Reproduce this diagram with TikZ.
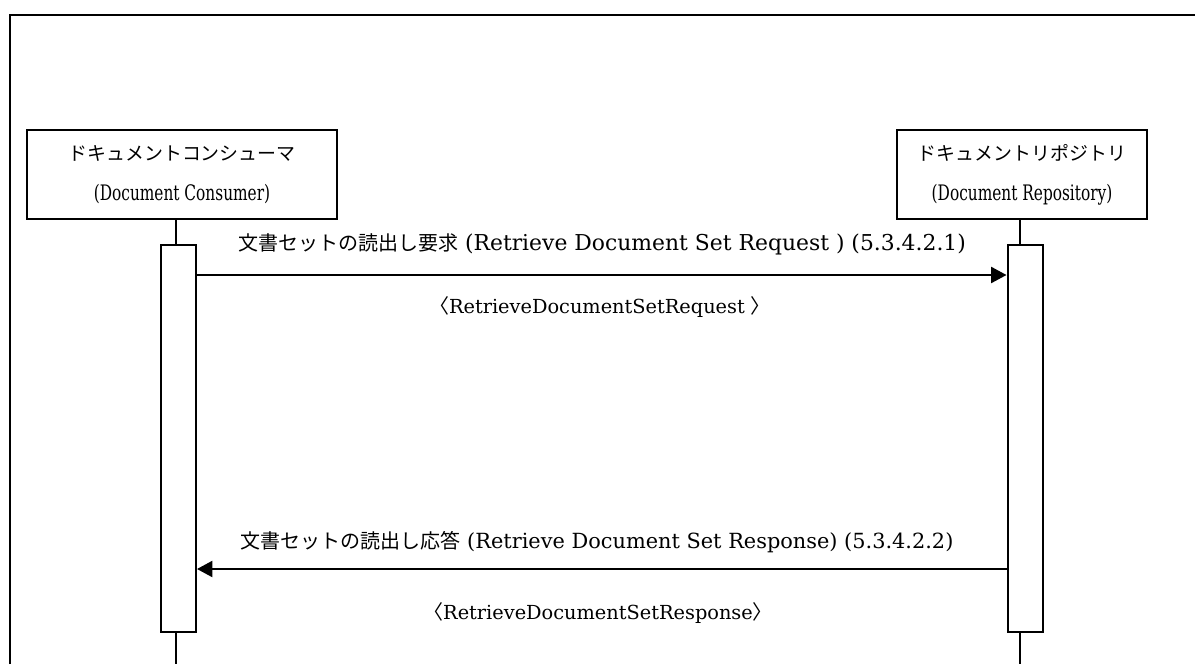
\documentclass[tikz,border=0pt]{standalone}
\usepackage{fontspec}
\setmainfont{DejaVu Serif}
\newfontfamily\boxlat[FakeStretch=0.72]{DejaVu Serif}
\newfontfamily\jp{Noto Sans CJK JP}
\usetikzlibrary{arrows.meta}
\newcommand\latsize[1]{\fontsize{#1}{30}\selectfont}
\begin{document}
\begin{tikzpicture}[x=0.75pt,y=-0.75pt,
  actorbox/.style={draw, line width=1.5pt, inner sep=0pt, align=center,
    font=\fontsize{14.2}{30}\selectfont},
  actbar/.style={draw, line width=1.5pt, fill=white, inner sep=0pt,
    minimum width=26.25pt, minimum height=290.25pt},
  life/.style={line width=1.2pt},
  msg/.style={line width=1.5pt, -{Triangle[length=11.5pt,width=12pt]}},
  lbl/.style={inner sep=0pt, font=\fontsize{15}{16}\selectfont},
]
\useasboundingbox (0,0) rectangle (1195,664);
\draw[line width=1.5pt] (10,664) -- (10,15) -- (1195,15);

\node[actorbox, minimum width=232.5pt, minimum height=66.75pt] (cons) at (182,174.5)
  {{\jp ドキュメントコンシューマ}\\{\boxlat\latsize{16}(Document Consumer)}};
\node[actorbox, minimum width=187.5pt, minimum height=66.75pt] (repo) at (1022,174.5)
  {{\jp ドキュメントリポジトリ}\\{\boxlat\latsize{16}(Document Repository)}};

\coordinate (lc) at (176,0);
\coordinate (lr) at (1020,0);
\coordinate (lcb) at (176,664);
\coordinate (lrb) at (1020,664);

\draw[life] (cons.south -| lc) -- (lcb);
\draw[life] (repo.south -| lr) -- (lrb);

\node[actbar] (actC) at (178.5,438.5) {};
\node[actbar] (actR) at (1025,438.5) {};

\draw[msg] (actC.east |- 0,275) -- (actR.west |- 0,275);
\draw[msg] (actR.west |- 0,569) -- (actC.east |- 0,569);

\node[lbl] (l1) at (602,244) {{\jp 文書セットの読出し要求}{\latsize{16.4} (Retrieve Document Set Request ) (5.3.4.2.1)}};
\node[lbl] (l2) at (600,307) {{\jp 〈}{\latsize{14.5}RetrieveDocumentSetRequest }{\jp 〉}};
\node[lbl] (l3) at (597,542) {{\jp 文書セットの読出し応答}{\latsize{15.65}  (Retrieve Document Set Response) (5.3.4.2.2)}};
\node[lbl] (l4) at (598,613) {{\jp 〈}{\latsize{14.5}RetrieveDocumentSetResponse}{\jp 〉}};
\end{tikzpicture}
\end{document}
